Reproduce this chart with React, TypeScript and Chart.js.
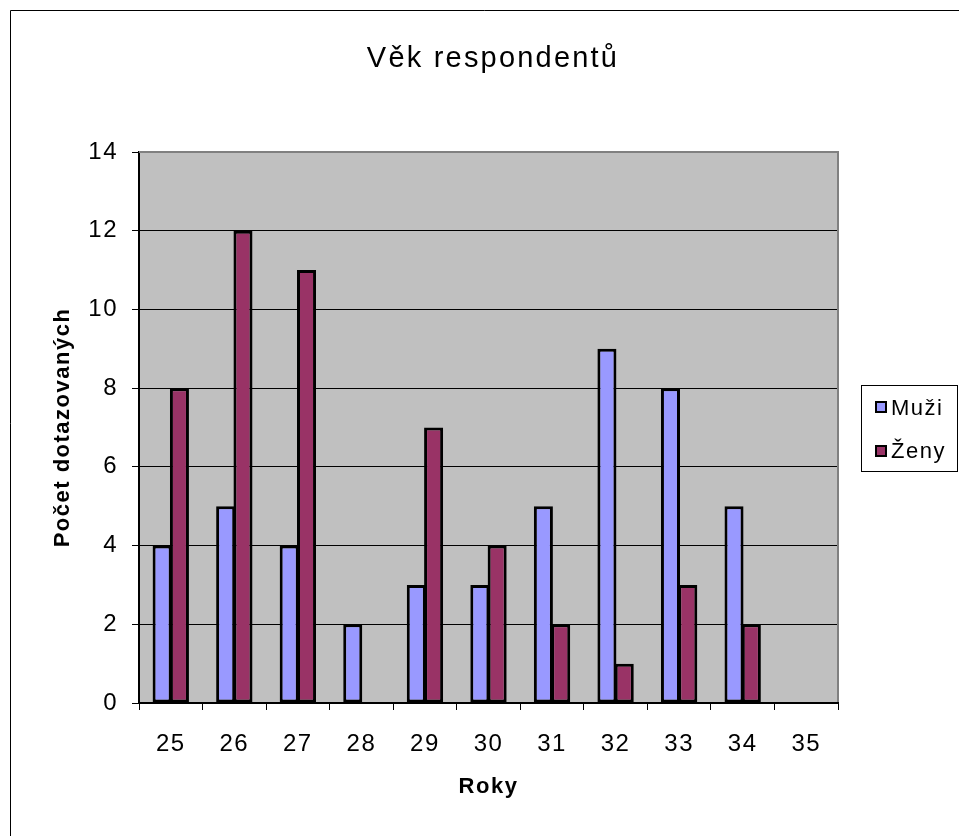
import React, { useEffect, useRef } from "react";
import { Chart, registerables } from "chart.js";

Chart.register(...registerables);

const TITLE = "Věk respondentů";
const X_TITLE = "Roky";
const Y_TITLE = "Počet dotazovaných";
const categories = ["25", "26", "27", "28", "29", "30", "31", "32", "33", "34", "35"];
const muzi = [4, 5, 4, 2, 3, 3, 5, 9, 8, 5, 0];
const zeny = [8, 12, 11, 0, 7, 4, 2, 1, 3, 2, 0];
const seriesNames = ["Muži", "Ženy"];
const seriesColors = ["#9999FF", "#993366"];

const FONT = "'Liberation Sans', Arial, sans-serif";

const framePlugin = {
  id: "frame",
  beforeDraw(chart: any) {
    const { ctx, chartArea: a } = chart;
    ctx.save();
    ctx.fillStyle = "#fff";
    ctx.fillRect(0, 0, chart.width, chart.height);
    // outer chart border
    ctx.strokeStyle = "#000";
    ctx.lineWidth = 1;
    ctx.beginPath();
    ctx.moveTo(10.5, chart.height);
    ctx.lineTo(10.5, 10.5);
    ctx.lineTo(959, 10.5);
    ctx.stroke();
    // plot background
    ctx.fillStyle = "#C0C0C0";
    ctx.fillRect(a.left, a.top, a.right - a.left, a.bottom - a.top);
    ctx.restore();
    // wider text spacing for axis labels (persisting through scale drawing)
    (ctx as any).letterSpacing = "1.5px";
  },
  afterDraw(chart: any) {
    const { ctx, chartArea: a } = chart;
    ctx.save();
    ctx.strokeStyle = "#808080";
    ctx.lineWidth = 2;
    ctx.beginPath();
    ctx.moveTo(a.left, a.top);
    ctx.lineTo(a.right, a.top);
    ctx.lineTo(a.right, a.bottom - 1);
    ctx.stroke();
    // title
    ctx.fillStyle = "#000";
    (ctx as any).letterSpacing = "2.2px";
    ctx.font = `29px ${FONT}`;
    ctx.textAlign = "center";
    ctx.textBaseline = "alphabetic";
    ctx.fillText(TITLE, 493, 67);
    // legend
    const lx = 861, ly = 385, lw = 96, lh = 86;
    ctx.fillStyle = "#fff";
    ctx.fillRect(lx, ly, lw, lh);
    ctx.strokeStyle = "#000";
    ctx.lineWidth = 1;
    ctx.strokeRect(lx + 0.5, ly + 0.5, lw, lh);
    (ctx as any).letterSpacing = "1.5px";
    ctx.font = `22px ${FONT}`;
    ctx.textAlign = "left";
    chart.data.datasets.forEach((ds: any, i: number) => {
      const cy = 407 + i * 44;
      ctx.fillStyle = ds.backgroundColor;
      ctx.fillRect(875, cy - 6, 12, 12);
      ctx.strokeStyle = "#000";
      ctx.lineWidth = 2;
      ctx.strokeRect(876, cy - 5, 10, 10);
      ctx.fillStyle = "#000";
      ctx.fillText(ds.label, 891, 415 + i * 43);
    });
    ctx.restore();
    (ctx as any).letterSpacing = "0px";
  },
};

export default function App() {
  const ref = useRef<HTMLCanvasElement | null>(null);
  useEffect(() => {
    if (!ref.current) return;
    const chart = new Chart(ref.current, {
      type: "bar",
      data: {
        labels: categories,
        datasets: [
          {
            label: seriesNames[0],
            data: muzi,
            backgroundColor: seriesColors[0],
            borderColor: "#000",
            borderWidth: 3,
            borderSkipped: false,
          },
          {
            label: seriesNames[1],
            data: zeny,
            backgroundColor: seriesColors[1],
            borderColor: "#000",
            borderWidth: 3,
            borderSkipped: false,
          },
        ],
      },
      options: {
        responsive: false,
        animation: false,
        devicePixelRatio: 1,
        layout: { padding: { left: 0, right: 124, top: 152, bottom: 0 } },
        datasets: {
          bar: { categoryPercentage: 0.545, barPercentage: 1.1 },
        },
        plugins: {
          legend: { display: false },
          title: { display: false },
          tooltip: { enabled: false },
        },
        scales: {
          x: {
            afterFit(scale: any) {
              scale.height = 133;
            },
            grid: {
              display: true,
              drawOnChartArea: false,
              drawTicks: true,
              tickLength: 7,
              color: "#000",
              offset: true,
            },
            border: { display: true, color: "#000", width: 2 },
            ticks: {
              color: "#000",
              font: { family: FONT, size: 24 },
              padding: 20,
              maxRotation: 0,
              autoSkip: false,
            },
            title: {
              display: true,
              text: X_TITLE,
              color: "#000",
              font: { family: FONT, size: 22, weight: "bold" },
              padding: { top: 0, bottom: 36 },
            },
          },
          y: {
            min: 0,
            max: 14,
            afterFit(scale: any) {
              scale.width = 139;
            },
            grid: {
              color: "#000",
              lineWidth: 1,
              tickLength: 7,
              drawTicks: true,
            },
            border: { display: true, color: "#000", width: 2 },
            ticks: {
              stepSize: 2,
              color: "#000",
              font: { family: FONT, size: 24 },
              padding: 14,
            },
            title: {
              display: true,
              text: Y_TITLE,
              color: "#000",
              font: { family: FONT, size: 22, weight: "bold" },
              padding: { top: 50, bottom: 0 },
            },
          },
        },
      },
      plugins: [framePlugin],
    });
    return () => chart.destroy();
  }, []);
  return (
    <div style={{ position: "fixed", left: 0, top: 0, width: 962, height: 836, background: "#fff" }}>
      <canvas ref={ref} width={962} height={836} style={{ display: "block" }} />
    </div>
  );
}
